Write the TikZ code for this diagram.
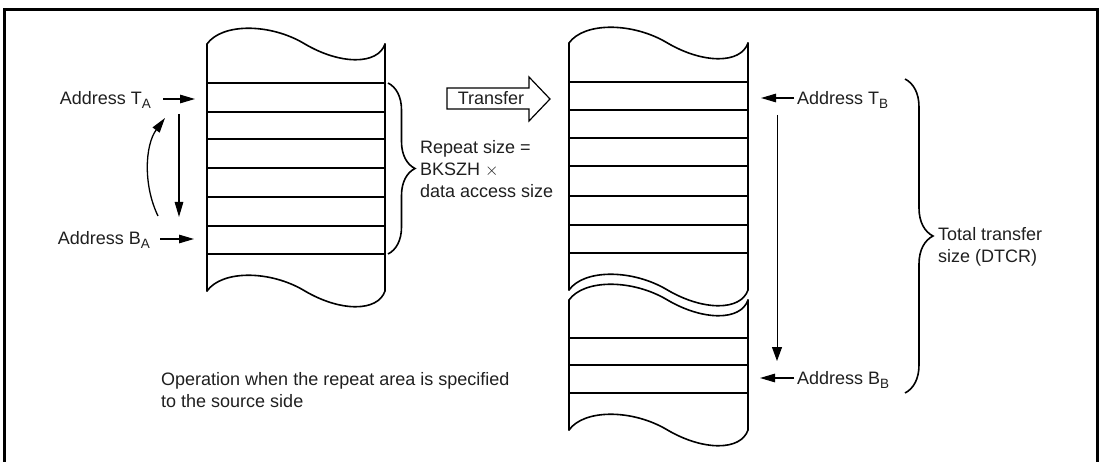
\documentclass[tikz,border=0pt]{standalone}
\usepackage{fontspec}
\setmainfont{Liberation Sans}
\usetikzlibrary{arrows.meta,decorations.pathreplacing}
\newcommand\wv[3]{(#1,#3) .. controls ({#1+0.084*(#2-#1)},{#3-21}) and ({#1+0.355*(#2-#1)},{#3-21}) .. ({#1+0.55*(#2-#1)},#3) .. controls ({#1+0.75*(#2-#1)},{#3+21}) and ({#1+0.96*(#2-#1)},{#3+21}) .. (#2,#3)}
\newcommand\sbx[1]{\raisebox{-4pt}{\fontsize{13.5}{14}\selectfont #1}}
\begin{document}
\begin{tikzpicture}[x=1pt,y=-1pt,
  blk/.style={line width=1.6pt, line join=round, line cap=round},
  arr/.style={line width=1.3pt, -{Triangle[length=15pt,width=8.5pt]}},
  lbl/.style={inner sep=0pt, font=\fontsize{18}{22}\selectfont, text=black!88},
  brc/.style={decorate, decoration={brace, amplitude=27pt}, line width=1.6pt}]
\useasboundingbox (0,0) rectangle (1100,462);
\clip (0,0) rectangle (1100,462);
% frame
\draw[line width=3pt] (4.5,480) -- (4.5,10) -- (1097,10) -- (1097,480);
% left block
\draw[blk] \wv{207}{385}{44};
\draw[blk] \wv{207}{385}{291};
\draw[blk] (207,44) -- (207,291);
\draw[blk] (385,44) -- (385,291);
\foreach \y in {83,112,139,168,197,226,254}
  \draw[blk] (207,\y) -- (385,\y);
% right block
\draw[blk] \wv{569}{748}{43};
\draw[blk] \wv{569}{748}{290};
\draw[blk] \wv{569}{748}{300};
\draw[blk] \wv{569}{748}{430};
\draw[blk] (569,43) -- (569,290);
\draw[blk] (748,43) -- (748,290);
\draw[blk] (569,300) -- (569,430);
\draw[blk] (748,300) -- (748,430);
\foreach \y in {82,110,138,166,196,225,253,338,365,393}
  \draw[blk] (569,\y) -- (748,\y);
% labels left
\node[lbl, anchor=base east] (ta) at (151,105) {Address T\sbx{A}};
\node[lbl, anchor=base east] (ba) at (150,245) {Address B\sbx{A}};
\coordinate (taS) at (163,99);
\coordinate (taE) at (195,99);
\coordinate (baS) at (160,239);
\coordinate (baE) at (194,239);
\draw[arr] (taS) -- (taE);
\draw[arr] (baS) -- (baE);
\coordinate (dS) at (179,114);
\coordinate (dE) at (179,217);
\draw[arr] (dS) -- (dE);
\coordinate (cS) at (158,216);
\coordinate (cE) at (165,118);
\draw[arr] (cS) .. controls (143,185) and (145,145) .. (cE);
% repeat brace
\draw[brc] (388,83) -- (388,254);
\node[lbl, anchor=west, align=left] (rep) at (420,169) {Repeat size =\\BKSZH $\times$\\data access size};
% transfer arrow
\draw[line width=1.2pt, line join=miter] (447,88) -- (529,88) -- (529,77) -- (550,99) -- (529,121) -- (529,109) -- (447,109) -- cycle;
\node[lbl] (tr) at (491,98.5) {Transfer};
% labels right
\node[lbl, anchor=base west] (tb) at (797,105) {Address T\sbx{B}};
\node[lbl, anchor=base west] (bb) at (797,384) {Address B\sbx{B}};
\coordinate (tbS) at (794,98);
\coordinate (tbE) at (761,98);
\coordinate (bbS) at (794,378);
\coordinate (bbE) at (760,378);
\draw[arr] (tbS) -- (tbE);
\draw[arr] (bbS) -- (bbE);
\coordinate (rS) at (777,115);
\coordinate (rE) at (777,361);
\draw[line width=1pt, -{Triangle[length=14pt,width=10pt]}] (rS) -- (rE);
% total brace
\draw[brc, decoration={amplitude=28pt}] (905,79) -- (905,393);
\node[lbl, anchor=west, align=left] (tot) at (938,247) {Total transfer\\size (DTCR)};
% caption
\node[lbl, anchor=west, align=left] (cap) at (161,390) {Operation when the repeat area is specified\\to the source side};
\end{tikzpicture}
\end{document}
